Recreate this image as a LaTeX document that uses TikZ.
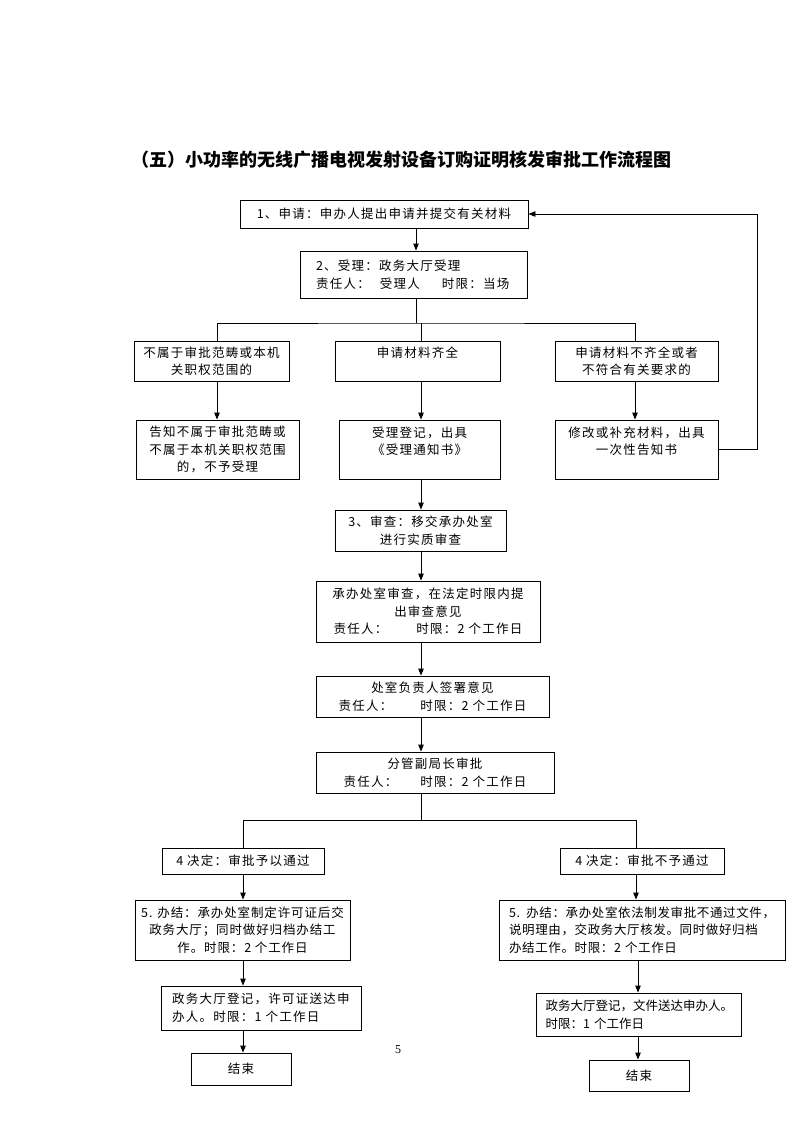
\documentclass[tikz,border=0pt]{standalone}
\usepackage{fontspec}
\setmainfont{Noto Sans CJK SC}
\newfontfamily\serifnum{Liberation Serif}
\usetikzlibrary{arrows.meta}
\newcommand\boxfont[1]{\fontsize{12.5}{17.5}\selectfont\addfontfeature{LetterSpace=#1}}
\tikzset{
  box/.style={draw, line width=0.9pt, inner sep=0pt, font=\boxfont{10}},
  conn/.style={line width=0.9pt},
  arr/.style={line width=0.9pt, -{Triangle[length=7pt,width=5.5pt]}},
}
\newcommand\mkbox[7]{%
  \node[box,#6,minimum width={(#4-#2)*1pt},minimum height={(#5-#3)*1pt}] (#1) at ({(#2+#4)/2},{(#3+#5)/2}) {#7};}
\begin{document}
\begin{tikzpicture}[x=1pt,y=-1pt]
\fill[white] (0,0) rectangle (793,1122);
\useasboundingbox (0,0) rectangle (793,1122);

\node[font=\bfseries\fontsize{18}{22}\selectfont] (title) at (401,160) {（五）小功率的无线广播电视发射设备订购证明核发审批工作流程图};

\mkbox{b1}{240}{200}{528}{228}{align=center}{1、申请：申办人提出申请并提交有关材料}
\mkbox{b2}{300}{251}{527}{298}{align=left,text width=195pt}{2、受理：政务大厅受理\\责任人：\hspace{10pt}受理人\hspace{22pt}时限：当场}

\mkbox{l1}{134}{341}{289}{381}{align=center}{不属于审批范畴或本机\\关职权范围的}
\mkbox{m1}{335}{341}{500}{381}{align=center}{申请材料齐全\\\mbox{}}
\mkbox{r1}{555}{341}{718}{381}{align=center}{申请材料不齐全或者\\不符合有关要求的}

\mkbox{l2}{136}{420}{299}{479}{align=center}{告知不属于审批范畴或\\不属于本机关职权范围\\的，不予受理}
\mkbox{m2}{339}{420}{500}{479}{align=center}{受理登记，出具\\《受理通知书》\\\mbox{}}
\mkbox{r2}{555}{420}{718}{479}{align=center}{修改或补充材料，出具\\一次性告知书\\\mbox{}}

\mkbox{b3}{335}{510}{506}{551}{align=center}{3、审查：移交承办处室\\进行实质审查}
\mkbox{b4}{316}{581}{540}{642}{align=center}{承办处室审查，在法定时限内提\\出审查意见\\责任人：\hspace{29pt}时限：2 个工作日}
\mkbox{b5}{316}{676}{549}{717}{align=center}{处室负责人签署意见\\责任人：\hspace{28pt}时限：2 个工作日}
\mkbox{b6}{316}{752}{554}{793}{align=center}{分管副局长审批\\责任人：\hspace{23pt}时限：2 个工作日}

\mkbox{dl}{162}{848}{324}{874}{align=center}{4 决定：审批予以通过}
\mkbox{dr}{560}{848}{724}{874}{align=center}{4 决定：审批不予通过}

\mkbox{el}{135}{900}{350}{960}{align=center,font=\boxfont{7}}{5. 办结：承办处室制定许可证后交\\政务大厅；同时做好归档办结工\\作。时限：2 个工作日}
\mkbox{er}{499}{900}{785}{960}{align=left,text width=266pt,font=\boxfont{5}}{5. 办结：承办处室依法制发审批不通过文件，\\说明理由，交政务大厅核发。同时做好归档\\办结工作。时限：2 个工作日}

\mkbox{fl}{161}{986}{361}{1030}{align=left,text width=178pt}{政务大厅登记，许可证送达申\\办人。时限：1 个工作日}
\mkbox{fr}{536}{993}{741}{1036}{align=left,text width=186pt,font=\boxfont{0}}{政务大厅登记，文件送达申办人。\\时限：1 个工作日}

\mkbox{gl}{191}{1053}{291}{1085}{align=center}{结束}
\mkbox{gr}{589}{1060}{689}{1091}{align=center}{结束}

\node[font=\serifnum\fontsize{12}{14}\selectfont] (pg) at (398,1050) {5};

% helper coordinates
\coordinate (xa) at (416,0);
\coordinate (xl) at (217,0);
\coordinate (xm) at (421,0);
\coordinate (xr) at (635,0);
\coordinate (xL) at (243,0);
\coordinate (xR) at (636,0);
\coordinate (xR2) at (638,0);
\coordinate (xloop) at (757,0);
\coordinate (j1) at (416,323);
\coordinate (j2) at (421,820);

\draw[arr] (b1.south -| xa) -- (b2.north -| xa);
\draw[conn] (b2.south -| xa) -- (j1);
\draw[conn] (l1.north -| xl) |- (j1) -| (r1.north -| xr);
\draw[conn] (j1 -| xm) -- (m1.north -| xm);

\draw[arr] (l1.south -| xl) -- (l2.north -| xl);
\draw[arr] (m1.south -| xm) -- (m2.north -| xm);
\draw[arr] (r1.south -| xr) -- (r2.north -| xr);

\draw[arr] (r2.east) -- (r2.east -| xloop) -- (b1.east -| xloop) -- (b1.east);

\draw[arr] (m2.south -| xm) -- (b3.north -| xm);
\draw[arr] (b3.south -| xm) -- (b4.north -| xm);
\draw[arr] (b4.south -| xm) -- (b5.north -| xm);
\draw[arr] (b5.south -| xm) -- (b6.north -| xm);

\draw[conn] (b6.south -| xm) -- (j2);
\draw[conn] (dl.north -| xL) |- (j2) -| (dr.north -| xR);

\draw[arr] (dl.south -| xL) -- (el.north -| xL);
\draw[arr] (dr.south -| xR) -- (er.north -| xR);
\draw[arr] (el.south -| xL) -- (fl.north -| xL);
\draw[arr] (er.south -| xR2) -- (fr.north -| xR2);
\draw[arr] (fl.south -| xL) -- (gl.north -| xL);
\draw[arr] (fr.south -| xR2) -- (gr.north -| xR2);
\end{tikzpicture}
\end{document}
